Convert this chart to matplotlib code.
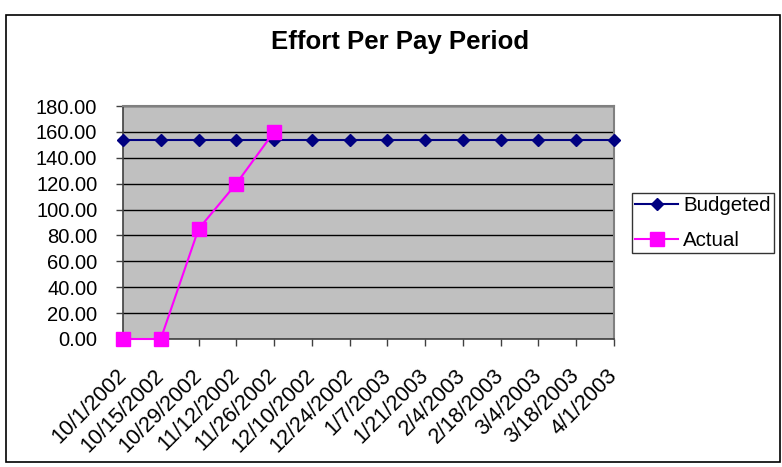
import matplotlib.pyplot as plt
from matplotlib.patches import Rectangle

# pay periods and hours
periods = ['10/1/2002', '10/15/2002', '10/29/2002', '11/12/2002', '11/26/2002',
           '12/10/2002', '12/24/2002', '1/7/2003', '1/21/2003', '2/4/2003',
           '2/18/2003', '3/4/2003', '3/18/2003', '4/1/2003']
budgeted = [153.5] * len(periods)
actual = [0, 0, 85, 120, 160]
y_ticks = [0, 20, 40, 60, 80, 100, 120, 140, 160, 180]

plt.rcParams['font.family'] = ['Liberation Sans', 'DejaVu Sans']

fig = plt.figure(figsize=(7.82, 4.67), dpi=100)
W, H = 782, 467
ax = fig.add_axes([123 / W, 1 - 339 / H, (614 - 123) / W, (339 - 106) / H])
ax.set_facecolor('#C0C0C0')

x = list(range(len(periods)))
ax.plot(x, budgeted, color='#000080', marker='D', markersize=6, linewidth=1.5,
        label='Budgeted', clip_on=False, zorder=3)
ax.plot(x[:len(actual)], actual, color='#FF00FF', marker='s', markersize=9.5,
        linewidth=1.5, label='Actual', clip_on=False, zorder=4)

ax.set_xlim(0, len(periods) - 1)
ax.set_ylim(0, 180)
ax.set_yticks(y_ticks)
ax.set_yticklabels([f'{v:.2f}' for v in y_ticks], fontsize=14.5)
ax.set_xticks(x)
ax.set_xticklabels(periods, rotation=45, ha='right', va='center',
                   rotation_mode='anchor', fontsize=15.5)
ax.tick_params(axis='both', direction='out', length=5, width=1, color='#404040')
ax.tick_params(axis='y', pad=13.5)
ax.tick_params(axis='x', pad=19)
ax.yaxis.grid(True, color='black', linewidth=1)
ax.set_axisbelow(True)
for side in ['left', 'bottom']:
    ax.spines[side].set_color('#404040')
    ax.spines[side].set_linewidth(1.2)
for side in ['top', 'right']:
    ax.spines[side].set_color('#808080')
    ax.spines[side].set_linewidth(1.5)

fig.text(400 / W, 1 - 42 / H, 'Effort Per Pay Period', ha='center', va='center',
         fontsize=18.5, fontweight='bold')

leg = fig.legend(loc='center left', bbox_to_anchor=(632 / W, 1 - 223 / H),
                 fontsize=14.8, frameon=True, fancybox=False, edgecolor='black',
                 handlelength=2.1, borderpad=0.15, labelspacing=0.75,
                 handletextpad=0.25, borderaxespad=0)
leg.get_frame().set_linewidth(1)

# outer chart border
fig.patches.append(Rectangle((6 / W, 1 - 462 / H), (780 - 6) / W, (462 - 15) / H,
                             transform=fig.transFigure, fill=False,
                             edgecolor='black', linewidth=1.2))

fig.savefig('out.png', dpi=100)
